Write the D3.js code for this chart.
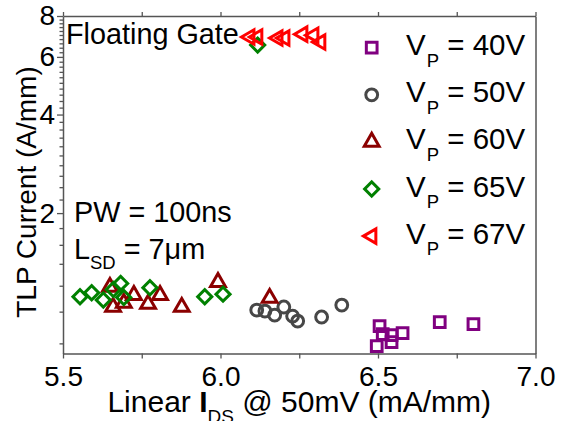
<!DOCTYPE html>
<html><head><meta charset="utf-8">
<script src="https://cdn.jsdelivr.net/npm/d3@7"></script>
<style>
body{margin:0;background:#fff;}
text{font-family:"Liberation Sans",Arial,sans-serif;fill:#000;}
</style></head>
<body><svg id="c" width="563" height="421"></svg>
<script>
// ---- data ----
const seriesLabels = ["40V","50V","60V","65V","67V"];
const vp40_x = [6.505,6.515,6.543,6.543,6.578,6.496,6.696,6.803];
const vp40_y = [0.903,0.854,0.848,0.807,0.860,0.785,0.929,0.916];
const vp50_x = [6.115,6.141,6.172,6.201,6.229,6.245,6.321,6.385];
const vp50_y = [1.011,1.004,0.976,1.033,0.969,0.936,0.963,1.047];
const vp60_x = [5.649,5.659,5.693,5.725,5.770,5.808,5.877,5.992,6.156];
const vp60_y = [1.189,1.033,1.062,1.123,1.055,1.123,1.033,1.231,1.100];
const vp65_x = [5.554,5.591,5.628,5.660,5.683,5.693,5.776,5.950,6.008,6.118];
const vp65_y = [1.110,1.142,1.085,1.169,1.220,1.105,1.183,1.110,1.131,6.52];
const vp67_x = [6.093,6.118,6.182,6.204,6.261,6.296,6.318];
const vp67_y = [6.90,6.90,6.85,6.85,7.04,6.99,6.66];
const xMajorTicks = [5.5,6.0,6.5,7.0];
const xMinorTicks = [5.75,6.25,6.75];
const yMajorTicks = [2,4,6,8];
const yMinorTicks = [0.8,1.0,1.2,1.4,1.6,1.8,2.2,2.4,2.6,2.8,3.0,3.2,3.4,3.6,3.8,
                     4.2,4.4,4.6,4.8,5.0,5.2,5.4,5.6,5.8,6.2,6.4,6.6,6.8,7.0,7.2,7.4,7.6,7.8];
const xDomain = [5.5,7.0];
const yDomain = [0.745,8];

// ---- styles ----
const colors = ["#800080","#474747","#8b0000","#008000","#ff0000"];
const symbols = [
  {type:d3.symbolSquare, size:115, rot:0},
  {type:d3.symbolCircle, size:110, rot:0},
  {type:d3.symbolTriangle, size:95, rot:0},
  {type:d3.symbolSquare, size:100, rot:45},
  {type:d3.symbolTriangle, size:90, rot:-90}
];
const series = [
  vp40_x.map((x,i)=>({x, y:vp40_y[i]})),
  vp50_x.map((x,i)=>({x, y:vp50_y[i]})),
  vp60_x.map((x,i)=>({x, y:vp60_y[i]})),
  vp65_x.map((x,i)=>({x, y:vp65_y[i]})),
  vp67_x.map((x,i)=>({x, y:vp67_y[i]}))
];

const m = {l:63, t:16, r:27.5, b:67.5};
const W = 563 - m.l - m.r, H = 421 - m.t - m.b;
const svg = d3.select("#c");
const g = svg.append("g").attr("transform",`translate(${m.l},${m.t})`);
const x = d3.scaleLinear().domain(xDomain).range([0,W]);
const y = d3.scaleLog().domain(yDomain).range([H,0]);
const axisColor = "#555";

function styleAxis(sel){
  sel.select(".domain").attr("stroke",axisColor).attr("stroke-width",1.5);
  sel.selectAll(".tick line").attr("stroke",axisColor).attr("stroke-width",1.3);
}
// bottom axis
const bx = g.append("g").attr("transform",`translate(0,${H})`)
  .call(d3.axisBottom(x).tickValues(xMajorTicks).tickFormat(d3.format(".1f")).tickSize(5).tickPadding(8).tickSizeOuter(0));
bx.selectAll(".tick text").attr("font-size",28).attr("font-family","Liberation Sans, Arial").attr("fill","#000");
styleAxis(bx);
const bxm = g.append("g").attr("transform",`translate(0,${H})`)
  .call(d3.axisBottom(x).tickValues(xMinorTicks).tickFormat("").tickSize(5).tickSizeOuter(0));
bxm.select(".domain").remove(); styleAxis(bxm);
// top axis
const tx = g.append("g").call(d3.axisTop(x).tickValues(xMajorTicks.concat(xMinorTicks)).tickFormat("").tickSize(4).tickSizeOuter(0));
styleAxis(tx);
// left axis
const ly = g.append("g").call(d3.axisLeft(y).tickValues(yMajorTicks).tickFormat(d3.format("d")).tickSize(6).tickPadding(2).tickSizeOuter(0));
ly.selectAll(".tick text").attr("font-size",28).attr("font-family","Liberation Sans, Arial").attr("fill","#000");
styleAxis(ly);
const lym = g.append("g").call(d3.axisLeft(y).tickValues(yMinorTicks.filter(v=>v>=yDomain[0])).tickFormat("").tickSize(3.5).tickSizeOuter(0));
lym.select(".domain").remove(); styleAxis(lym);
// right axis
const ry = g.append("g").attr("transform",`translate(${W},0)`).call(d3.axisRight(y).tickValues([]).tickSizeOuter(0));
styleAxis(ry);

// points
series.forEach((pts,si)=>{
  const s = symbols[si];
  g.append("g").selectAll("path").data(pts).join("path")
    .attr("d", d3.symbol().type(s.type).size(s.size))
    .attr("transform", d=>`translate(${x(d.x)},${y(d.y)}) rotate(${s.rot})`)
    .attr("fill","none").attr("stroke",colors[si]).attr("stroke-width",3);
});

// legend
const legX = 371.7, legY0 = 47.7, legDy = 47.1;
seriesLabels.forEach((lab,i)=>{
  const s = symbols[i];
  const cy = legY0 + i*legDy;
  svg.append("path").attr("d", d3.symbol().type(s.type).size(s.size))
    .attr("transform",`translate(${legX},${cy}) rotate(${s.rot})`)
    .attr("fill","none").attr("stroke",colors[i]).attr("stroke-width",3);
  const t = svg.append("text").attr("x",406).attr("y",cy+7.5).attr("font-size",29.5);
  t.append("tspan").text("V");
  t.append("tspan").attr("font-size",18.5).attr("dy",11.5).attr("dx",1).text("P");
  t.append("tspan").attr("dy",-11.5).text(" = " + lab);
});

// annotations
svg.append("text").attr("x",66).attr("y",44).attr("font-size",28.8).text("Floating Gate");
svg.append("text").attr("x",74).attr("y",221.5).attr("font-size",28.8).text("PW = 100ns");
const ls = svg.append("text").attr("x",74).attr("y",258.5).attr("font-size",28.8);
ls.append("tspan").text("L");
ls.append("tspan").attr("font-size",18.5).attr("dy",10).text("SD");
ls.append("tspan").attr("dy",-10).text(" = 7\u03BCm");

// axis titles
const xt = svg.append("text").attr("x",m.l+W/2).attr("y",411.5).attr("text-anchor","middle").attr("font-size",30);
xt.append("tspan").text("Linear ");
xt.append("tspan").attr("font-weight","bold").text("I");
xt.append("tspan").attr("font-size",19).attr("dy",11).text("DS");
xt.append("tspan").attr("dy",-11).text(" @ 50mV (mA/mm)");
svg.append("text").attr("transform","translate(36,192) rotate(-90)").attr("text-anchor","middle")
  .attr("font-size",28).text("TLP Current (A/mm)");
</script></body></html>
